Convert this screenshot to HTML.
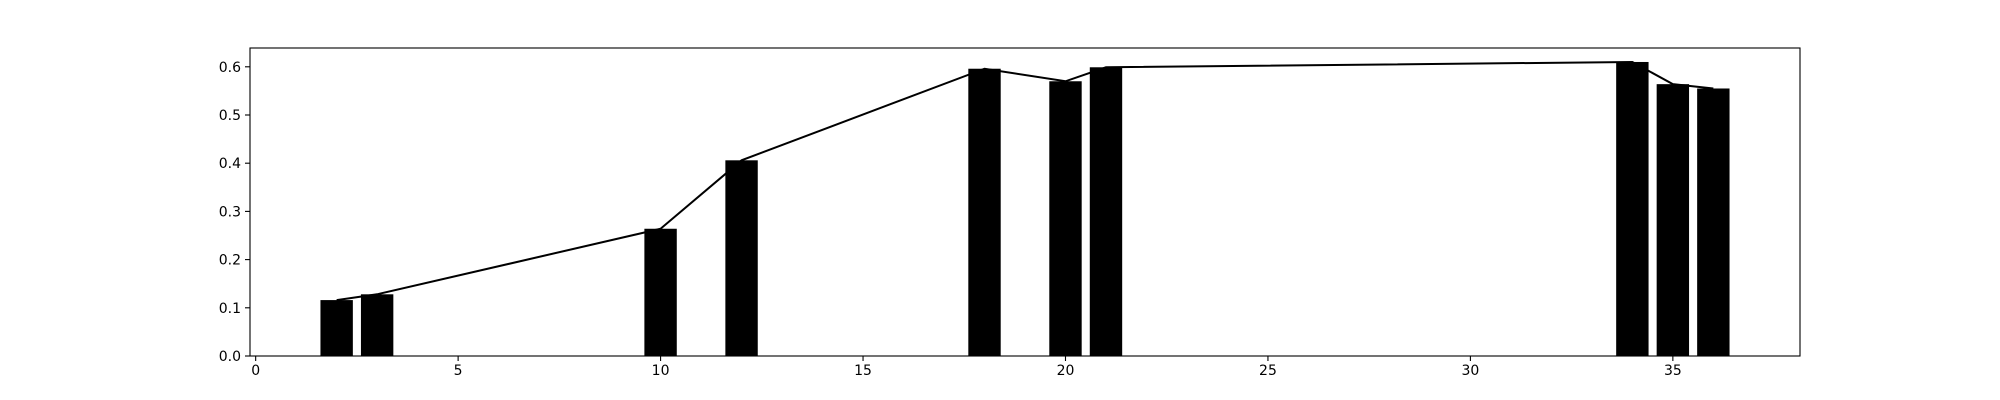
<!DOCTYPE html>
<html><head><meta charset="utf-8"><style>
html,body{margin:0;padding:0;background:#fff;}
svg{display:block;font-family:"DejaVu Sans","Liberation Sans",sans-serif;}
</style></head><body>
<svg id="chart" width="2000" height="400" viewBox="0 0 2000 400" xmlns="http://www.w3.org/2000/svg">
<rect x="0" y="0" width="2000" height="400" fill="#fff"/>
<g id="marks"></g>
<g id="axes"></g>
</svg>
<script>
const categories = [2, 3, 10, 12, 18, 20, 21, 34, 35, 36];
const values = [0.116, 0.128, 0.264, 0.406, 0.596, 0.570, 0.599, 0.610, 0.564, 0.555];
const xTicks = [0, 5, 10, 15, 20, 25, 30, 35];
const yTicks = [0.0, 0.1, 0.2, 0.3, 0.4, 0.5, 0.6];
const yTickLabels = ["0.0", "0.1", "0.2", "0.3", "0.4", "0.5", "0.6"];

const L = 250, R = 1800, T = 48, B = 356;
const barW = 0.8;
const xmin0 = Math.min(...categories) - barW / 2, xmax0 = Math.max(...categories) + barW / 2;
const xpad = (xmax0 - xmin0) * 0.05;
const xMin = xmin0 - xpad, xMax = xmax0 + xpad;
const yMax = 0.639;
function xs(v) { return L + (v - xMin) / (xMax - xMin) * (R - L); }
function ys(v) { return B - v / yMax * (B - T); }

const NS = "http://www.w3.org/2000/svg";
const marks = document.getElementById('marks');
const axes = document.getElementById('axes');
function mk(tag, attrs, parent) {
  const e = document.createElementNS(NS, tag);
  for (const k in attrs) e.setAttribute(k, attrs[k]);
  parent.appendChild(e);
  return e;
}

categories.forEach((c, i) => {
  const r = mk('rect', {x: xs(c - barW / 2), y: ys(values[i]), width: xs(c + barW / 2) - xs(c - barW / 2), height: B - ys(values[i]), fill: '#000'}, marks);
  
  
});
const pts = categories.map((c, i) => xs(c).toFixed(2) + ',' + ys(values[i]).toFixed(2)).join(' ');
const line = mk('polyline', {points: pts, fill: 'none', stroke: '#000', 'stroke-width': 2}, marks);



const frame = mk('rect', {x: L, y: T, width: R - L, height: B - T, fill: 'none', stroke: '#000', 'stroke-width': 1.1}, axes);



xTicks.forEach(t => {
  const x = xs(t);
  mk('line', {x1: x, x2: x, y1: B, y2: B + 5, stroke: '#000', 'stroke-width': 1.1}, axes);
  const tx = mk('text', {x: x, y: B + 19, 'font-size': 14, 'text-anchor': 'middle', fill: '#000'}, axes);
  tx.textContent = t;
  
  
});
yTicks.forEach((t, i) => {
  const y = ys(t);
  mk('line', {x1: L - 5, x2: L, y1: y, y2: y, stroke: '#000', 'stroke-width': 1.1}, axes);
  const tx = mk('text', {x: L - 9, y: y + 5, 'font-size': 14, 'text-anchor': 'end', fill: '#000'}, axes);
  tx.textContent = yTickLabels[i];
  
  
});
</script>
</body></html>
